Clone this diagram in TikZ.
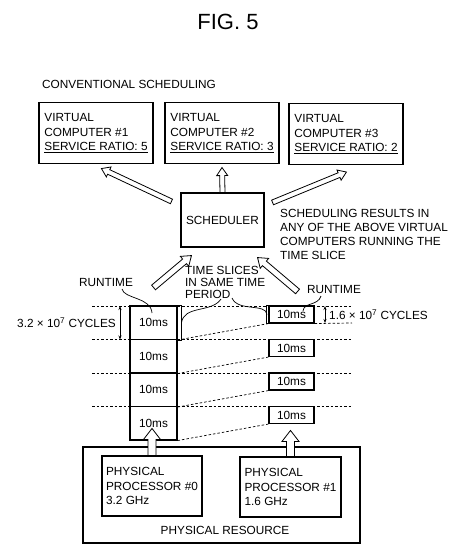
\documentclass[tikz,border=0pt]{standalone}
\usepackage{fontspec}
\setmainfont{Liberation Sans}
\usetikzlibrary{calc,arrows.meta}
\newcommand\harrow[5]{%
  \coordinate (hA) at #1; \coordinate (hB) at #2;
  \coordinate (hH) at ($(hB)!#5!(hA)$);
  \draw[hollowarrow] ($(hA)!#3!90:(hB)$) -- ($(hH)!#3!-90:(hA)$) -- ($(hH)!#4!-90:(hA)$) -- (hB)
     -- ($(hH)!#4!90:(hA)$) -- ($(hH)!#3!90:(hA)$) -- ($(hA)!#3!-90:(hB)$) -- cycle;}
\begin{document}
\begin{tikzpicture}[x=1pt,y=-1pt,
  every node/.style={font=\fontsize{11.8}{14.5}\selectfont, inner sep=0pt},
  box/.style={draw, line width=1.1pt},
  dashline/.style={dash pattern=on 2.5pt off 2pt, line width=0.7pt},
  hollowarrow/.style={draw, fill=white, line width=0.8pt, line join=miter},
  leader/.style={line width=0.7pt},
  dimarrow/.style={line width=0.7pt, {Stealth[length=4pt,width=3pt]}-{Stealth[length=4pt,width=3pt]}}]
\useasboundingbox (0,0) rectangle (450,550);
% title
\node (fig) at (228,22) {\fontsize{22}{26}\selectfont FIG. 5};
\node[anchor=west] (conv) at (42,84) {CONVENTIONAL SCHEDULING};
% virtual computers
\node[box, minimum width=114pt, minimum height=61pt, align=left] (vc1) at (96,133)
  {VIRTUAL\\COMPUTER \#1\\\underline{SERVICE RATIO: 5}};
\node[box, minimum width=114pt, minimum height=61pt, align=left] (vc2) at (222,133)
  {VIRTUAL\\COMPUTER \#2\\\underline{SERVICE RATIO: 3}};
\node[box, minimum width=114pt, minimum height=61pt, align=left] (vc3) at (346,134)
  {VIRTUAL\\COMPUTER \#3\\\underline{SERVICE RATIO: 2}};
% scheduler
\node[box, minimum width=83pt, minimum height=54pt] (sched) at (222.5,220) {SCHEDULER};
\node[anchor=west, align=left, font=\fontsize{11.8}{14}\selectfont] (sr) at (280,234)
  {SCHEDULING RESULTS IN\\ANY OF THE ABOVE VIRTUAL\\COMPUTERS RUNNING THE\\TIME SLICE};
\node[anchor=west, align=left, font=\fontsize{11.8}{12}\selectfont] (ts) at (185,282)
  {TIME SLICES\\IN SAME TIME\\PERIOD};
\node (rtl) at (106,282) {RUNTIME};
\node (rtr) at (334,289) {RUNTIME};
% dashed time lines
\foreach \yy/\nm in {306/t1,339.5/t2,373/t3,406.5/t4}{
  \coordinate (\nm a) at (92,\yy); \coordinate (\nm b) at (352,\yy);
  \draw[dashline] (\nm a) -- (\nm b);}
\coordinate (r1e) at (352,323);
% left column
\foreach \i/\yy in {1/322.75,2/356.25,3/389.75,4/423.25}{
  \node[box, minimum width=47pt, minimum height=33.5pt] (L\i) at (153.5,\yy) {10ms};}
% right column
\foreach \i/\yy in {1/314.5,2/348,3/381.5,4/415}{
  \node[box, minimum width=45pt, minimum height=17pt] (R\i) at (291.5,\yy) {10ms};}
\draw[dashline] (R1.south east) -- (r1e);
\foreach \i in {1,2,3,4}{
  \draw[dashline] (L\i.south east) -- (R\i.south west);}
% brackets
\draw[leader] (L1.north east) -- ++(4,0) |- (L1.south east);
\draw[leader] (R1.north west) -- ++(-2.5,0) |- (R1.south west);
% leader curves
\draw[leader] (122,289) .. controls (124,299) and (151,297) .. (152,313);
\draw[leader] (221,299) .. controls (212,313) and (184,305) .. (181.5,322.75);
\draw[leader] (232,298) .. controls (238,312) and (266,303) .. (267,314.5);
\draw[leader] (321,296) .. controls (318,306) and (304,302) .. (303,311);
% cycle annotations
\coordinate (d1a) at (120,306); \coordinate (d1b) at (120,339.5);
\draw[dimarrow] (d1a) -- (d1b);
\node[anchor=east] (c32) at (116,322.5) {3.2 × 10\textsuperscript{7} CYCLES};
\coordinate (d2a) at (325,306); \coordinate (d2b) at (325,323);
\draw[dimarrow] (d2a) -- (d2b);
\node[anchor=west] (c16) at (329,314.5) {1.6 × 10\textsuperscript{7} CYCLES};
% physical resource
\node[box, minimum width=277pt, minimum height=96pt] (res) at (221.5,495) {};
\node (resl) at (225,530) {PHYSICAL RESOURCE};
\node[box, minimum width=100pt, minimum height=60pt, align=left] (pp0) at (152,486)
  {PHYSICAL\\PROCESSOR \#0\\3.2 GHz};
\node[box, minimum width=101pt, minimum height=60pt, align=left] (pp1) at (290.5,487)
  {PHYSICAL\\PROCESSOR \#1\\1.6 GHz};
% hollow arrows
\harrow{($(sched.north west)+(-9,9)$)}{($(vc1.south west)+(63,4.5)$)}{2.5pt}{5.5pt}{8pt}
\harrow{(sched.north)}{($(vc2.south)+(0,3.5)$)}{2.5pt}{5.5pt}{8pt}
\harrow{($(sched.north east)+(8,10)$)}{($(vc3.south west)+(58,7)$)}{2.5pt}{5.5pt}{8pt}
\harrow{($(L1.north east)+(-24,-18)$)}{($(sched.south west)+(11,8)$)}{3pt}{6.5pt}{9pt}
\harrow{($(R1.north east)+(-17,-14)$)}{($(sched.south east)+(-7,10)$)}{3pt}{6.5pt}{9pt}
\harrow{(pp0.north)}{($(pp0.north)+(0,-27)$)}{4pt}{8.5pt}{11pt}
\harrow{(pp1.north)}{($(pp1.north)+(0,-26)$)}{4pt}{8.5pt}{11pt}
\end{tikzpicture}
\end{document}
